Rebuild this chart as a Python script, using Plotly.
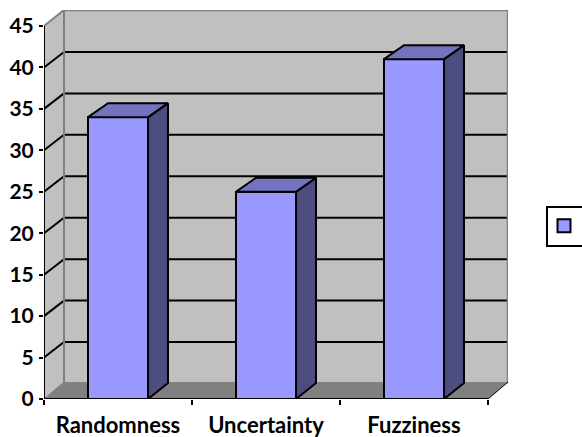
import plotly.graph_objects as go

categories = ["Randomness", "Uncertainty", "Fuzziness"]
values = [34, 25, 41]
y_ticks = [0, 5, 10, 15, 20, 25, 30, 35, 40, 45]
series_name = " "

W, H = 582, 437
PX_X0, PX_X1, PX_Y0, PX_YT = 44, 508, 399, 10
CAT_PX = 148.0
UNIT_PX = 373 / 45
DX = 20 / CAT_PX
DY = 15.5 / UNIT_PX
FLOOR_DY = 17 / UNIT_PX
BAR_W = 60 / CAT_PX
BAR_DY_TOP = 14 / UNIT_PX
BAR_DY_BOT = 16 / UNIT_PX
XR = [-0.5, -0.5 + (PX_X1 - PX_X0) / CAT_PX]
YR = [0, (PX_Y0 - PX_YT) / UNIT_PX]
L, R = -0.5, 2.5
YMAX = y_ticks[-1]
WALL, FLOOR, EDGE = "#c0c0c0", "#808080", "#808080"
FRONT, TOPC, SIDE = "#9999ff", "#7373bf", "#4d4d80"

def poly(pts, fill, line=None, width=0, layer="below"):
    path = "M " + " L ".join(f"{x},{y}" for x, y in pts) + " Z"
    return dict(type="path", path=path, xref="x", yref="y", fillcolor=fill,
                line=dict(color=line or fill, width=width), layer=layer)

def seg(x0, y0, x1, y1, color="black", width=2, layer="below"):
    return dict(type="line", xref="x", yref="y", x0=x0, y0=y0, x1=x1, y1=y1,
                line=dict(color=color, width=width), layer=layer)

shapes = [
    poly([(L + DX, DY), (R + DX, DY), (R + DX, YR[1]), (L + DX, YR[1])], WALL),
    poly([(L, 0), (L + DX, FLOOR_DY), (L + DX, YR[1]), (L, YMAX)], WALL),
    poly([(L, 0), (R, 0), (R + DX, FLOOR_DY), (L + DX, FLOOR_DY)], FLOOR),
]
for v in y_ticks[1:-1]:
    shapes.append(seg(L, v, L + DX, v + DY))
    shapes.append(seg(L + DX, v + DY, R + DX, v + DY))
shapes += [
    seg(L + DX, FLOOR_DY, L + DX, YR[1], EDGE, 2),
    seg(L + DX, YR[1], R + DX, YR[1], EDGE, 2.5),
    seg(R + DX, FLOOR_DY, R + DX, YR[1], EDGE, 2.5),
    seg(L, YMAX, L + DX, YR[1], EDGE, 2),
    seg(L, 0, L + DX, FLOOR_DY, EDGE, 1),
    seg(R, 0, R + DX, FLOOR_DY, "black", 1),
    seg(L, 0, L, YMAX, "black", 2, "above"),
    seg(L, 0, R, 0, "black", 2, "above"),
]

fig = go.Figure()
xs = list(range(len(categories)))
fig.add_trace(go.Bar(x=xs, y=values, width=BAR_W, showlegend=False,
                     marker=dict(color=FRONT, line=dict(color="black", width=2)),
                     hoverinfo="skip"))
for x, v in zip(xs, values):
    a, b = x - BAR_W / 2, x + BAR_W / 2
    fig.add_trace(go.Scatter(
        x=[b, b + DX, b + DX, b, b], y=[0, BAR_DY_BOT, v + BAR_DY_TOP, v, 0],
        mode="lines", fill="toself", fillcolor=SIDE,
        line=dict(color="black", width=2), showlegend=False, hoverinfo="skip"))
    fig.add_trace(go.Scatter(
        x=[a, b, b + DX, a + DX, a], y=[v, v, v + BAR_DY_TOP, v + BAR_DY_TOP, v],
        mode="lines", fill="toself", fillcolor=TOPC,
        line=dict(color="black", width=2), showlegend=False, hoverinfo="skip"))
# legend key for the single unnamed series
fig.add_trace(go.Scatter(x=[None], y=[None], mode="markers", name=series_name, showlegend=True,
                         marker=dict(symbol="square", size=13, color=FRONT,
                                     line=dict(color="black", width=2))))

FONT = "Lato"
fig.update_layout(
    width=W, height=H, margin=dict(l=0, r=0, t=0, b=0, autoexpand=False),
    paper_bgcolor="white", plot_bgcolor="rgba(0,0,0,0)", shapes=shapes, bargap=0,
    font=dict(family=FONT, color="black"),
    xaxis=dict(domain=[PX_X0 / W, PX_X1 / W], range=XR, showgrid=False, zeroline=False,
               showline=False, tickmode="array", tickvals=xs, ticktext=categories,
               ticks="", tickfont=dict(family=FONT, size=22, weight=700, color="black"),
               ticklabelstandoff=11,
               minor=dict(tickmode="array", tickvals=[-0.5, 0.5, 1.5, 2.5], ticks="outside",
                          ticklen=5, tickwidth=2, tickcolor="black", showgrid=False)),
    yaxis=dict(domain=[(H - PX_Y0) / H, (H - PX_YT) / H], range=YR, showgrid=False,
               zeroline=False, showline=False, tickmode="array", tickvals=y_ticks,
               ticks="outside", ticklen=4, tickwidth=2, tickcolor="black",
               ticklabelstandoff=1,
               tickfont=dict(family=FONT, size=21, weight=700, color="black")),
    showlegend=True,
    legend=dict(x=546 / W, y=1 - 205.5 / H, xanchor="left", yanchor="top", itemsizing="trace",
                indentation=-4,
                bordercolor="black", borderwidth=2, bgcolor="white",
                font=dict(size=18), itemclick=False, itemdoubleclick=False),
)
fig.write_html("out.html", post_script="document.body.style.margin='0';document.body.style.overflow='hidden';",
               config=dict(displayModeBar=False))
